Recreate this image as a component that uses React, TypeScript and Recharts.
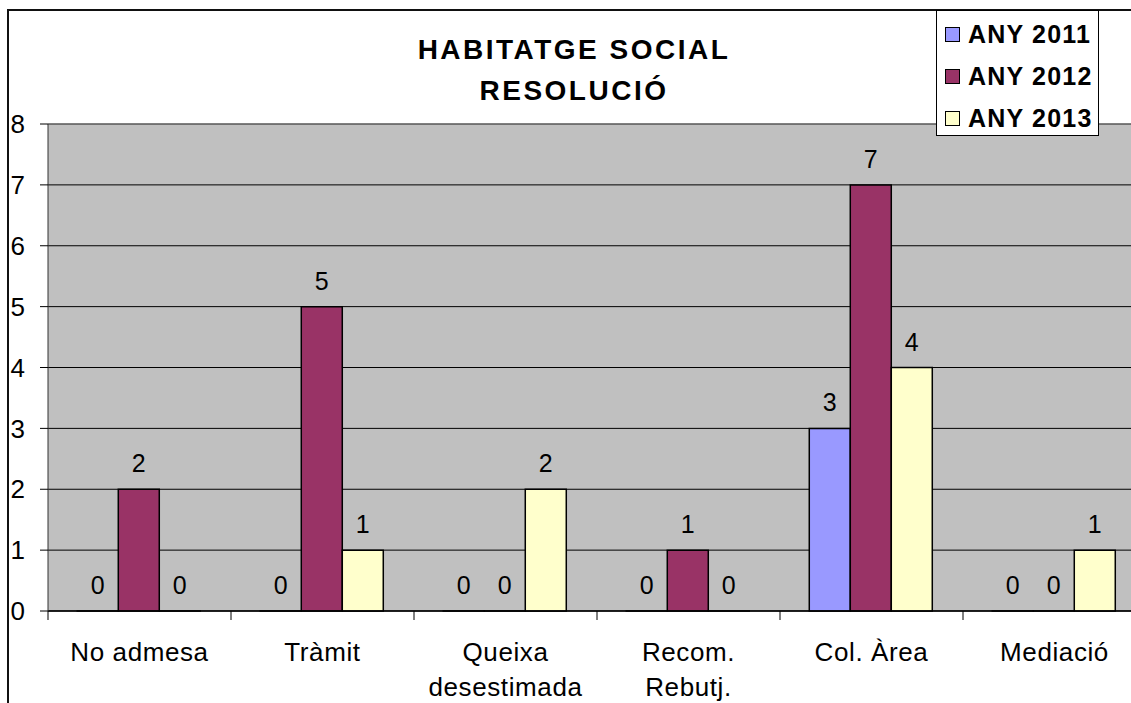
import { BarChart, Bar, XAxis, YAxis, CartesianGrid, LabelList, ReferenceLine } from "recharts";

const categories = ["No admesa", "Tràmit", "Queixa\ndesestimada", "Recom.\nRebutj.", "Col. Àrea", "Mediació"];
const any2011 = [0, 0, 0, 0, 3, 0];
const any2012 = [2, 5, 0, 1, 7, 0];
const any2013 = [0, 1, 2, 0, 4, 1];
const yTicks = [0, 1, 2, 3, 4, 5, 6, 7, 8];

const series = [
  { key: "y2011", name: "ANY 2011", color: "#9999FF" },
  { key: "y2012", name: "ANY 2012", color: "#993366" },
  { key: "y2013", name: "ANY 2013", color: "#FFFFCC" },
];

const data = categories.map((c, i) => ({
  cat: c,
  y2011: any2011[i],
  y2012: any2012[i],
  y2013: any2013[i],
}));

const FONT = '"Liberation Sans", Arial, sans-serif';
const CHART_W = 1200;
const CHART_H = 760;
const MARGIN = { top: 124, right: 54, bottom: 49, left: 8 };
const Y_W = 40;
const BAND = (CHART_W - MARGIN.left - MARGIN.right - Y_W) / categories.length;

function CategoryTick(props: any) {
  const { x, y, payload, index } = props;
  const lines = String(payload.value).split("\n");
  const last = index === categories.length - 1;
  return (
    <g>
      <line x1={x - BAND / 2} x2={x - BAND / 2} y1={y} y2={y + 9} stroke="#000" />
      {last && <line x1={x + BAND / 2} x2={x + BAND / 2} y1={y} y2={y + 9} stroke="#000" />}
      <text x={x} y={y} textAnchor="middle" fontFamily={FONT} fontSize={26} letterSpacing={0.6} fill="#000">
        {lines.map((l, i) => (
          <tspan key={i} x={x} y={y + 50 + i * 35}>
            {l}
          </tspan>
        ))}
      </text>
    </g>
  );
}

export default function App() {
  return (
    <div style={{ position: "absolute", left: 0, top: 0, width: 1131, height: 703, overflow: "hidden", background: "#fff" }}>
      <div
        style={{
          position: "absolute",
          left: 7,
          top: 9,
          width: 1300,
          height: 900,
          border: "2px solid #111",
        }}
      />
      <div
        style={{
          position: "absolute",
          left: 374,
          width: 400,
          top: 29,
          textAlign: "center",
          fontFamily: FONT,
          fontWeight: "bold",
          fontSize: 28,
          letterSpacing: 2.5,
          lineHeight: "41px",
        }}
      >
        HABITATGE SOCIAL
        <br />
        RESOLUCIÓ
      </div>
      <div style={{ position: "absolute", left: 0, top: 0 }}>
        <BarChart
          width={CHART_W}
          height={CHART_H}
          data={data}
          margin={MARGIN}
          barCategoryGap="16%"
          barGap={0}
        >
          <CartesianGrid vertical={false} fill="#C0C0C0" stroke="#000" strokeOpacity={1} />
          <XAxis
            dataKey="cat"
            interval={0}
            height={100}
            tickSize={0}
            tickMargin={0}
            tickLine={false}
            axisLine={{ stroke: "#000", strokeWidth: 1.5 }}
            tick={<CategoryTick />}
          />
          <YAxis
            width={Y_W}
            domain={[0, 8]}
            ticks={yTicks}
            interval={0}
            tickSize={8}
            tickMargin={15}
            axisLine={{ stroke: "#333" }}
            tickLine={{ stroke: "#000" }}
            tick={{ fontSize: 26, fill: "#000", fontFamily: FONT }}
          />
          <ReferenceLine y={8} stroke="#808080" />
          {series.map((s) => (
            <Bar
              key={s.key}
              dataKey={s.key}
              name={s.name}
              fill={s.color}
              stroke="#000"
              strokeWidth={1.5}
              minPointSize={0.01}
              isAnimationActive={false}
            >
              <LabelList dataKey={s.key} position="top" offset={17} fill="#000" fontSize={25} fontFamily={FONT} />
            </Bar>
          ))}
        </BarChart>
      </div>
      <div
        style={{
          position: "absolute",
          left: 936,
          top: 10,
          width: 161,
          height: 124,
          border: "1px solid #000",
          background: "#fff",
          fontFamily: FONT,
          fontWeight: "bold",
          fontSize: 25,
          letterSpacing: 1.2,
        }}
      >
        {series.map((s, i) => (
          <div
            key={s.key}
            style={{ position: "absolute", left: 8, top: 10 + i * 42, height: 26, display: "flex", alignItems: "center" }}
          >
            <span style={{ width: 13, height: 13, border: "1px solid #000", background: s.color, marginRight: 8 }} />
            <span>{s.name}</span>
          </div>
        ))}
      </div>
    </div>
  );
}
